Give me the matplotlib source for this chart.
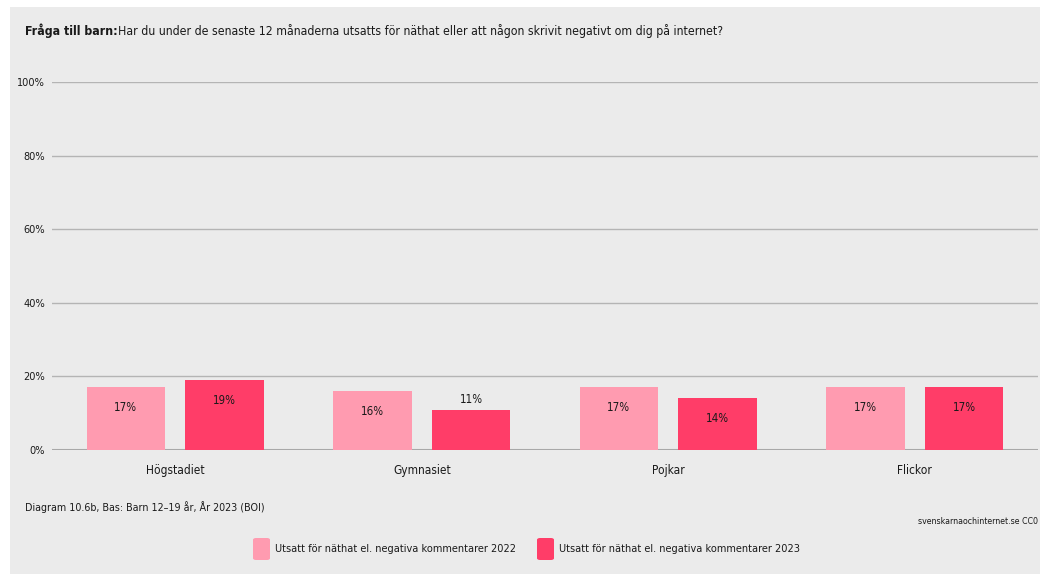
import matplotlib
matplotlib.use("Agg")
import matplotlib.pyplot as plt
from matplotlib.patches import Rectangle, FancyBboxPatch
import numpy as np

categories = ["Högstadiet", "Gymnasiet", "Pojkar", "Flickor"]
values_2022 = [17, 16, 17, 17]
values_2023 = [19, 11, 14, 17]
series_names = ["Utsatt för näthat el. negativa kommentarer 2022",
                "Utsatt för näthat el. negativa kommentarer 2023"]
yticks = [0, 20, 40, 60, 80, 100]
ytick_labels = ["0%", "20%", "40%", "60%", "80%", "100%"]

c2022 = "#ff9bb0"
c2023 = "#ff3d68"
bg = "#ebebeb"
grid = "#b4b4b4"
txt = "#1a1a1a"

plt.rcParams['font.family'] = ['DejaVu Sans']
plt.rcParams['font.stretch'] = 'condensed'

W, H = 1040, 575
fig = plt.figure(figsize=(W / 100, H / 100), dpi=100)
fig.patch.set_facecolor("white")

# gray panel
fig.patches.append(Rectangle((10 / W, 1 - 574 / H), 1 - 10 / W, (574 - 7) / H,
                             transform=fig.transFigure, facecolor=bg,
                             edgecolor="none", zorder=-5))

ax = fig.add_axes([52 / W, 1 - 450 / H, (1038 - 52) / W, (450 - 82) / H])
ax.set_facecolor("none")
ax.set_zorder(1)
ax.set_xlim(-0.5, 3.5)
ax.set_ylim(0, 100)

x = np.arange(len(categories))
bw = 0.32
off = 0.2
ax.bar(x - off, values_2022, width=bw, color=c2022, zorder=3)
ax.bar(x + off, values_2023, width=bw, color=c2023, zorder=3)

for xi, v in zip(x - off, values_2022):
    ax.annotate(f"{v}%", (xi, v), xytext=(0, -20), textcoords="offset pixels",
                ha="center", va="center", fontsize=8.3, color=txt, zorder=4)
for xi, v in zip(x + off, values_2023):
    dy = 10 if v < 12 else -20
    ax.annotate(f"{v}%", (xi, v), xytext=(0, dy), textcoords="offset pixels",
                ha="center", va="center", fontsize=8.3, color=txt, zorder=4)

ax.set_yticks(yticks)
ax.set_yticklabels(ytick_labels)
ax.yaxis.grid(True, color=grid, linewidth=1.0, zorder=1)
ax.set_axisbelow(True)
ax.set_xticks(x)
ax.set_xticklabels(categories)
ax.tick_params(axis="both", length=0, colors=txt)
ax.tick_params(axis="y", pad=5, labelsize=7.8)
ax.tick_params(axis="x", pad=10, labelsize=8.6)
for s in ax.spines.values():
    s.set_visible(False)
ax.axhline(0, color="#a8a8a8", linewidth=1.5, zorder=2)

# title
t1 = fig.text(25 / W, 1 - 31 / H, "Fråga till barn:", fontsize=8.9,
              fontweight="bold", color=txt, va="center", ha="left")
fig.canvas.draw()
bb = t1.get_window_extent()
fig.text(bb.x1 / W, 1 - 31 / H,
         "Har du under de senaste 12 månaderna utsatts för näthat eller att någon skrivit negativt om dig på internet?",
         fontsize=8.8, color=txt, va="center", ha="left")

# footer
fig.text(25 / W, 1 - 507 / H, "Diagram 10.6b, Bas: Barn 12–19 år, År 2023 (BOI)",
         fontsize=7.7, color=txt, va="center", ha="left")
fig.text(1038 / W, 1 - 521 / H, "svenskarnaochinternet.se CC0",
         fontsize=6.3, color=txt, va="center", ha="right")

# legend
for xs, col, name in [(253, c2022, series_names[0]), (537, c2023, series_names[1])]:
    fig.patches.append(FancyBboxPatch((xs / W, 1 - 560 / H), 17 / W, 22 / H,
                                      boxstyle="round,pad=0,rounding_size=0.003",
                                      transform=fig.transFigure, facecolor=col,
                                      edgecolor="none", zorder=2))
    fig.text((xs + 22) / W, 1 - 549 / H, name, fontsize=7.8, color=txt,
             va="center", ha="left")

fig.savefig("out.png", dpi=100, facecolor="white")
